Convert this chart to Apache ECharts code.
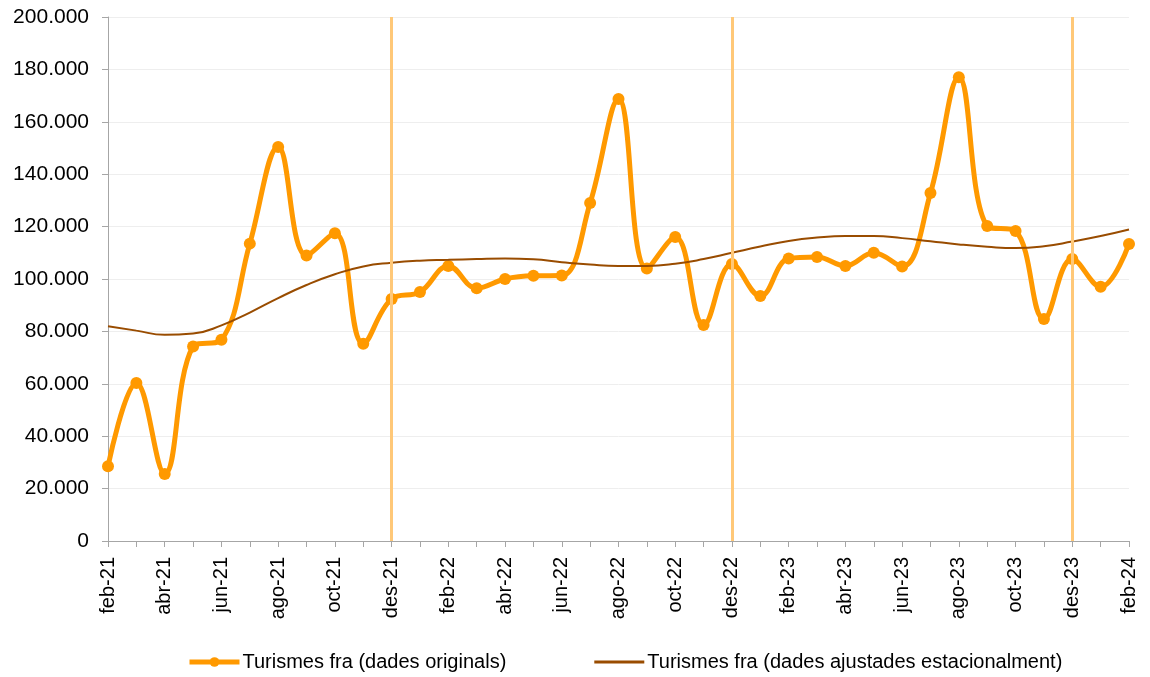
<!DOCTYPE html>
<html>
<head>
<meta charset="utf-8">
<script src="https://cdn.jsdelivr.net/npm/echarts@6/dist/echarts.min.js"></script>
<style>
html, body { margin: 0; padding: 0; background: #fff; }
#chart { width: 1150px; height: 677px; }
</style>
</head>
<body>
<div id="chart"></div>
<script>
var months = [
    'feb-21', 'mar-21', 'abr-21', 'mai-21', 'jun-21', 'jul-21', 'ago-21', 'set-21', 'oct-21', 'nov-21', 'des-21', 'gen-22',
    'feb-22', 'mar-22', 'abr-22', 'mai-22', 'jun-22', 'jul-22', 'ago-22', 'set-22', 'oct-22', 'nov-22', 'des-22', 'gen-23',
    'feb-23', 'mar-23', 'abr-23', 'mai-23', 'jun-23', 'jul-23', 'ago-23', 'set-23', 'oct-23', 'nov-23', 'des-23', 'gen-24',
    'feb-24'
];

var originals = [
    28500, 60300, 25600, 74200, 76800, 113500, 150400, 109000, 117500, 75300, 92400, 95000,
    105000, 96500, 100000, 101200, 101300, 129000, 168700, 104000, 116000, 82400, 105700, 93500,
    107800, 108400, 105000, 110000, 104800, 132800, 177000, 120200, 118300, 84700, 107600, 97000,
    113400
];

var ajustades = [
    82000, 80300, 78700, 79200, 82300, 87200, 92700, 97700, 101800, 104800, 106200, 107000,
    107300, 107600, 107800, 107500, 106400, 105500, 105000, 105000, 105800, 107600, 110000, 112400,
    114500, 115800, 116400, 116400, 115600, 114400, 113200, 112300, 111800, 112500, 114300, 116400,
    118900
];

var yearBreaks = ['des-21', 'des-22', 'des-23'];

var nameOrig = 'Turismes fra (dades originals)';
var nameAdj = 'Turismes fra (dades ajustades estacionalment)';

var chart = echarts.init(document.getElementById('chart'));

chart.setOption({
    animation: false,
    textStyle: { fontFamily: 'Liberation Sans, Arial, sans-serif' },
    grid: { left: 108, right: 21, top: 17, bottom: 136 },
    legend: {
        bottom: 0,
        left: 182,
        itemGap: 88,
        itemWidth: 50,
        itemHeight: 12,
        textStyle: { fontSize: 20, color: '#000', padding: [0, 0, 0, -2] },
        data: [
            { name: nameOrig, itemStyle: { color: '#ff9900' }, lineStyle: { width: 5, color: '#ff9900' } },
            { name: nameAdj, icon: 'path://M0,0 L50,0 L50,3 L0,3 Z', itemStyle: { color: '#994c00' } }
        ]
    },
    xAxis: {
        type: 'category',
        boundaryGap: false,
        data: months,
        axisLine: { lineStyle: { color: '#a6a6a6', width: 1 } },
        axisTick: { show: true, interval: 0, length: 6, lineStyle: { color: '#a6a6a6' } },
        axisLabel: { interval: 1, rotate: 90, fontSize: 20, color: '#000', margin: 16 },
        splitLine: { show: false }
    },
    yAxis: {
        type: 'value',
        min: 0,
        max: 200000,
        interval: 20000,
        axisLine: { show: true, lineStyle: { color: '#a6a6a6', width: 1 } },
        axisTick: { show: true, length: 6, lineStyle: { color: '#a6a6a6' } },
        axisLabel: {
            fontSize: 21,
            color: '#000',
            margin: 19,
            formatter: function (v) {
                return String(v).replace(/\B(?=(\d{3})+(?!\d))/g, '.');
            }
        },
        splitLine: { lineStyle: { color: '#eeeeee', width: 1 } }
    },
    series: [
        {
            name: nameOrig,
            type: 'line',
            data: originals,
            smooth: 0.4,
            symbol: 'circle',
            symbolSize: 12,
            itemStyle: { color: '#ff9900' },
            lineStyle: { color: '#ff9900', width: 5 },
            z: 3,
            markLine: {
                silent: true,
                symbol: 'none',
                label: { show: false },
                lineStyle: { color: '#ffc878', width: 3, type: 'solid' },
                data: yearBreaks.map(function (m) { return { xAxis: m }; })
            }
        },
        {
            name: nameAdj,
            type: 'line',
            data: ajustades,
            smooth: 0.5,
            symbol: 'none',
            itemStyle: { color: '#994c00' },
            lineStyle: { color: '#994c00', width: 2 },
            z: 4
        }
    ]
});
</script>
</body>
</html>
